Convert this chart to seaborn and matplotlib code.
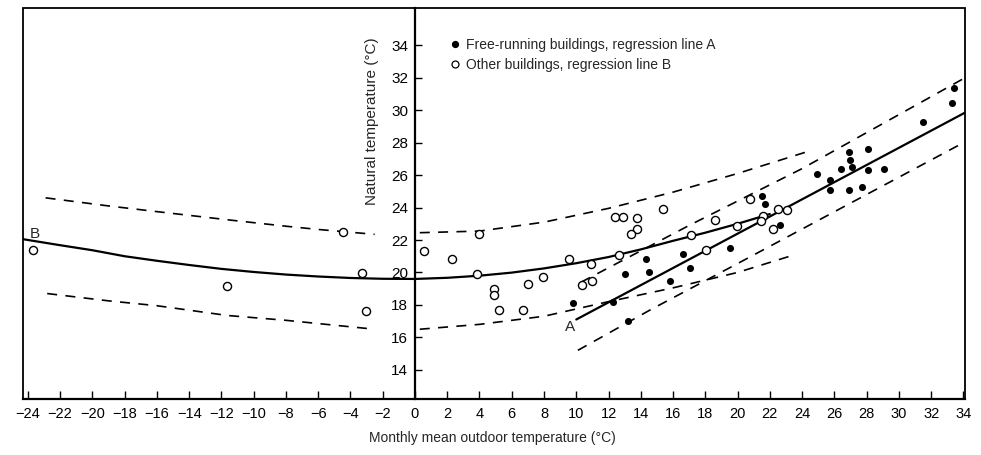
import numpy as np
import pandas as pd
import matplotlib
matplotlib.use("Agg")
import matplotlib.pyplot as plt
import seaborn as sns
from matplotlib.lines import Line2D
from matplotlib.patches import Rectangle

# ---------------- data ----------------
free_x = [9.8, 12.3, 13.2, 13.0, 14.5, 15.8, 17.05, 14.3, 16.6, 19.5, 21.5, 21.7,
          22.6, 24.9, 25.7, 25.7, 26.4, 26.9, 27.0, 27.1, 26.9, 28.1, 28.1, 27.7,
          29.1, 31.5, 33.4, 33.3]
free_y = [18.1, 18.2, 17.0, 19.9, 20.05, 19.5, 20.3, 20.8, 21.15, 21.5, 24.7, 24.25,
          22.95, 26.05, 25.7, 25.1, 26.35, 27.45, 26.95, 26.5, 25.1, 27.6, 26.3, 25.25,
          26.4, 29.3, 31.35, 30.45]

other_x = [-23.7, -11.65, -4.45, -3.3, -3.05,
           0.55, 2.3, 3.95, 3.85, 4.9, 4.9, 5.2, 6.7, 7.0, 7.95, 9.55, 10.9, 10.35,
           10.95, 12.4, 12.9, 13.75, 13.75, 13.4, 15.4, 12.65, 17.1, 20.75, 18.6,
           19.95, 18.05, 21.55, 21.45, 22.2, 22.5, 23.05]
other_y = [21.4, 19.15, 22.5, 19.95, 17.65,
           21.3, 20.85, 22.35, 19.9, 19.0, 18.6, 17.7, 17.7, 19.3, 19.7, 20.85, 20.55, 19.2,
           19.5, 23.4, 23.4, 23.35, 22.7, 22.35, 23.9, 21.05, 22.3, 24.5, 23.25,
           22.85, 21.4, 23.5, 23.15, 22.65, 23.9, 23.85]

lineA_x = [10.0, 34.1]
lineA_y = [17.1, 29.85]
upperA_x = [10.3, 17.0, 24.0, 34.1]
upperA_y = [19.4, 22.9, 26.4, 32.0]
lowerA_x = [10.1, 14.6, 20.1, 34.1]
lowerA_y = [15.2, 17.7, 20.6, 28.05]

lineB_x = [-24.3, -22, -20, -18, -16, -14, -12, -10, -8, -6, -4, -2, 0,
           2, 4, 6, 8, 10, 12, 14, 16, 18, 20, 22.0]
lineB_y = [22.05, 21.68, 21.37, 21.0, 20.72, 20.46, 20.22, 20.03, 19.87, 19.75, 19.66, 19.61, 19.6,
           19.67, 19.8, 19.99, 20.25, 20.57, 20.95, 21.42, 21.95, 22.45, 23.0, 23.6]
upperB_left_x = [-22.9, -19, -16, -11.65, -8, -6, -2.5]
upperB_left_y = [24.6, 24.1, 23.75, 23.25, 22.85, 22.65, 22.35]
lowerB_left_x = [-22.8, -19, -16, -11.65, -8, -6, -2.5]
lowerB_left_y = [18.7, 18.25, 17.95, 17.35, 17.05, 16.85, 16.5]
upperB_right_x = [0.3, 4, 8, 12, 16, 20, 24.5]
upperB_right_y = [22.45, 22.55, 23.1, 23.95, 24.95, 26.1, 27.5]
lowerB_right_x = [0.3, 4, 8, 12, 16, 20, 23.4]
lowerB_right_y = [16.5, 16.8, 17.3, 18.2, 19.05, 20.0, 21.05]

xticks = list(range(-24, 35, 2))
yticks = list(range(14, 35, 2))
legend_labels = ["Free-running buildings, regression line A",
                 "Other buildings, regression line B"]
xlabel = "Monthly mean outdoor temperature (\u00b0C)"
ylabel = "Natural temperature (\u00b0C)"

# ---------------- drawing ----------------
sns.set_theme(style="white")
plt.rcParams['font.family'] = ['Liberation Sans', 'DejaVu Sans']

fig = plt.figure(figsize=(9.81, 4.55), dpi=100)
ax = fig.add_axes([23 / 981, 1 - 399 / 455, 942 / 981, 391 / 455])

solid_kw = dict(color='black', linewidth=1.6, sort=False, estimator=None, ax=ax, zorder=2)
dash_kw = dict(color='black', linewidth=1.2, sort=False, estimator=None, ax=ax,
               linestyle=(0, (6, 5)), zorder=2)

sns.lineplot(x=lineA_x, y=lineA_y, **solid_kw)
sns.lineplot(x=lineB_x, y=lineB_y, **solid_kw)
for xs, ys in [(upperA_x, upperA_y), (lowerA_x, lowerA_y),
               (upperB_left_x, upperB_left_y), (lowerB_left_x, lowerB_left_y),
               (upperB_right_x, upperB_right_y), (lowerB_right_x, lowerB_right_y)]:
    sns.lineplot(x=xs, y=ys, **dash_kw)

sns.scatterplot(x=other_x, y=other_y, ax=ax, s=34, color='white',
                edgecolor='black', linewidth=1.0, zorder=4, legend=False)
sns.scatterplot(x=free_x, y=free_y, ax=ax, s=26, color='black',
                edgecolor='black', linewidth=0, zorder=5, legend=False)

ax.text(-23.55, 22.4, "B", fontsize=11, ha='center', va='center')
ax.text(9.6, 16.65, "A", fontsize=11, ha='center', va='center')

ax.set_xlim(-24.3, 34.1)
ax.set_ylim(12.2, 36.3)
ax.set_xticks(xticks)
ax.set_yticks(yticks)
ax.set_xlabel("")
ax.set_ylabel("")

# axes: y axis at x = 0, full frame
for s in ['top', 'right']:
    ax.spines[s].set_visible(False)
ax.spines['left'].set_position(('data', 0))
ax.spines['left'].set_linewidth(1.6)
ax.spines['left'].set_color('black')
ax.spines['bottom'].set_linewidth(1.6)
ax.spines['bottom'].set_color('black')
ax.add_patch(Rectangle((0, 0), 1, 1, transform=ax.transAxes, fill=False,
                       edgecolor='black', linewidth=1.3, zorder=6, clip_on=False))

ax.tick_params(axis='x', direction='in', length=6, width=1, colors='black',
               labelsize=10.5, pad=6, bottom=True)
ax.tick_params(axis='y', direction='in', length=5, width=1, colors='black',
               labelsize=11, pad=5, left=True)

handles = [Line2D([], [], marker='o', linestyle='none', markersize=4.2,
                  markerfacecolor='black', markeredgecolor='black'),
           Line2D([], [], marker='o', linestyle='none', markersize=5,
                  markerfacecolor='white', markeredgecolor='black', markeredgewidth=0.9)]
fig.legend(handles, legend_labels, loc='upper left',
           bbox_to_anchor=(449 / 981, 1 - 38 / 455), frameon=False,
           fontsize=10, handlelength=0.8, handletextpad=0.4,
           labelspacing=0.45, borderpad=0, borderaxespad=0)

fig.text(492 / 981, 1 - 438 / 455, xlabel, ha='center', va='center', fontsize=10)
fig.text(372 / 981, 1 - 121 / 455, ylabel, ha='center', va='center',
         rotation=90, fontsize=11)

fig.savefig("out.png", dpi=100, facecolor='white')
